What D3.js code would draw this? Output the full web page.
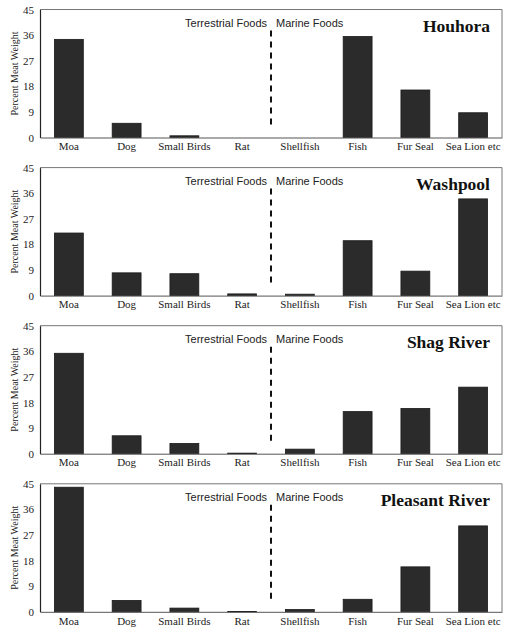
<!DOCTYPE html>
<html>
<head>
<meta charset="utf-8">
<script src="https://cdn.jsdelivr.net/npm/d3@7"></script>
<style>
  html, body { margin: 0; padding: 0; background: #fff; }
  svg { display: block; }
</style>
</head>
<body>
<svg id="chart" width="511" height="632"></svg>
<script>
// Food categories along the x axis
const categories = ["Moa", "Dog", "Small Birds", "Rat", "Shellfish", "Fish", "Fur Seal", "Sea Lion etc"];

// Site names, one panel each
const sites = ["Houhora", "Washpool", "Shag River", "Pleasant River"];

// Percent meat weight per category, one array per site
const houhora       = [34.5, 5.0, 0.6, 0.0, 0.0, 35.5, 16.7, 8.7];
const washpool      = [22.0, 8.0, 7.7, 0.6, 0.5, 19.3, 8.6, 34.0];
const shagRiver     = [35.3, 6.3, 3.6, 0.2, 1.6, 14.8, 15.9, 23.4];
const pleasantRiver = [43.8, 4.0, 1.3, 0.1, 0.8, 4.4, 15.8, 30.2];

// Y axis tick values
const yTicks = [0, 9, 18, 27, 36, 45];

const seriesValues = [houhora, washpool, shagRiver, pleasantRiver];

const svg = d3.select("#chart");
const left = 40, right = 502;
const panelH = 128, panelStep = 158.1, firstTop = 9.5;

const x = d3.scaleBand()
  .domain(categories)
  .range([left, right])
  .paddingInner(0.5)
  .paddingOuter(0.25);

const serif = "'Liberation Serif', 'Times New Roman', serif";
const sans = "'Liberation Sans', Arial, sans-serif";

sites.forEach((site, i) => {
  const top = firstTop + i * panelStep;
  const bottom = top + panelH;
  const g = svg.append("g");

  const y = d3.scaleLinear().domain([0, 45]).range([bottom, top]);

  // frame: top and right edges
  g.append("path")
    .attr("d", `M${left},${top}H${right}V${bottom}`)
    .attr("fill", "none")
    .attr("stroke", "#777")
    .attr("stroke-width", 1);

  // bars
  g.selectAll("rect.bar")
    .data(categories.map((c, k) => ({ c, v: seriesValues[i][k] })))
    .join("rect")
    .attr("class", "bar")
    .attr("x", d => x(d.c))
    .attr("width", x.bandwidth())
    .attr("y", d => y(d.v))
    .attr("height", d => y(0) - y(d.v))
    .attr("fill", "#2b2b2b")
    .attr("stroke", "#1a1a1a")
    .attr("stroke-width", 0.8);

  // y axis
  const yAxis = g.append("g")
    .attr("transform", `translate(${left},0)`)
    .call(d3.axisLeft(y).tickValues(yTicks).tickSize(0).tickPadding(6));
  yAxis.select(".domain").attr("stroke", "#222").attr("stroke-width", 1.2);
  yAxis.selectAll("text")
    .attr("font-family", serif)
    .attr("font-size", 11)
    .attr("fill", "#222");

  // x axis
  const xAxis = g.append("g")
    .attr("transform", `translate(0,${bottom})`)
    .call(d3.axisBottom(x).tickSize(0).tickPadding(5).tickSizeOuter(0));
  xAxis.select(".domain").attr("stroke", "#555").attr("stroke-width", 1);
  xAxis.selectAll("text")
    .attr("font-family", serif)
    .attr("font-size", 11)
    .attr("fill", "#222");

  // y axis label
  g.append("text")
    .attr("transform", `translate(18,${(top + bottom) / 2}) rotate(-90)`)
    .attr("text-anchor", "middle")
    .attr("font-family", serif)
    .attr("font-size", 10)
    .attr("fill", "#222")
    .text("Percent Meat Weight");

  // divider between terrestrial and marine categories
  const divX = (x("Rat") + x.bandwidth() + x("Shellfish")) / 2;
  g.append("line")
    .attr("x1", divX).attr("x2", divX)
    .attr("y1", top + 21).attr("y2", bottom - 10)
    .attr("stroke", "#111")
    .attr("stroke-width", 2)
    .attr("stroke-dasharray", "6,5");

  g.append("text")
    .attr("x", divX - 4)
    .attr("y", top + 17.5)
    .attr("text-anchor", "end")
    .attr("font-family", sans)
    .attr("font-size", 11)
    .attr("fill", "#222")
    .text("Terrestrial Foods");

  g.append("text")
    .attr("x", divX + 5)
    .attr("y", top + 17.5)
    .attr("font-family", sans)
    .attr("font-size", 11)
    .attr("fill", "#222")
    .text("Marine Foods");

  // site title
  g.append("text")
    .attr("x", 490)
    .attr("y", top + 22.5)
    .attr("text-anchor", "end")
    .attr("font-family", serif)
    .attr("font-weight", "bold")
    .attr("font-size", 17.5)
    .attr("fill", "#111")
    .text(site);
});
</script>
</body>
</html>
